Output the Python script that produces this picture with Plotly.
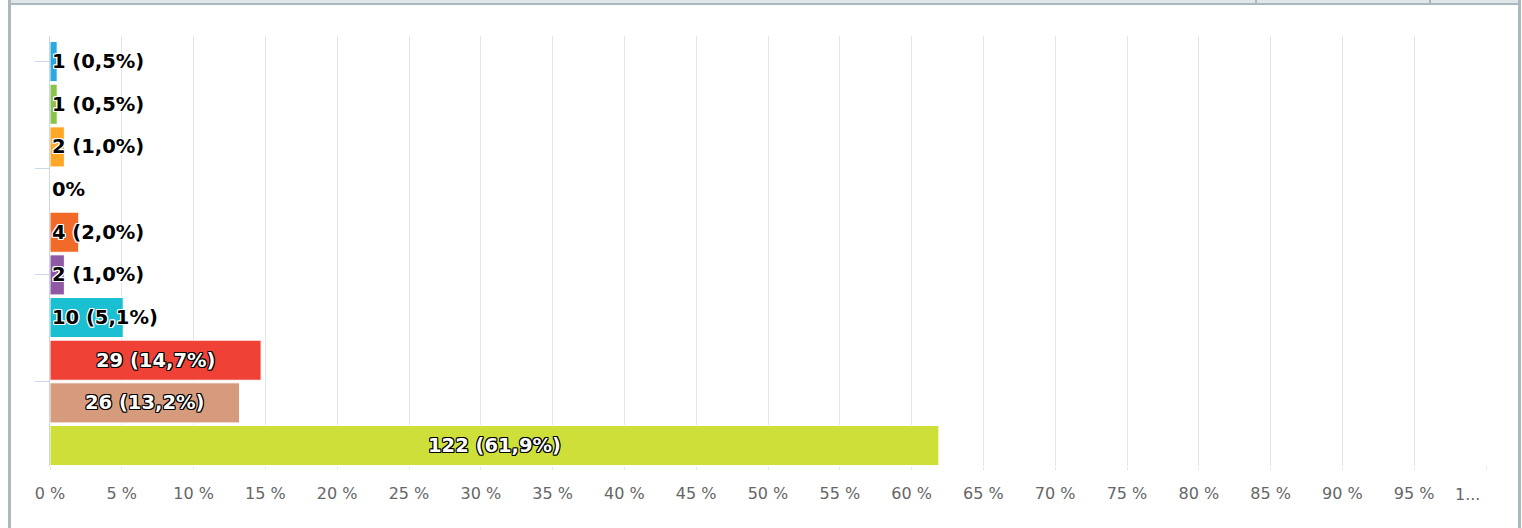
import plotly.graph_objects as go

# ---- data ----
counts = [1, 1, 2, 0, 4, 2, 10, 29, 26, 122]
percents = [0.5, 0.5, 1.0, 0.0, 2.0, 1.0, 5.1, 14.7, 13.2, 61.9]
colors = ["#2aa8e0", "#8bc34a", "#ffa726", "#cccccc", "#f26a27",
          "#8f59a5", "#1bbfd2", "#f04137", "#d69a7c", "#cfdf3a"]
tick_vals = list(range(0, 101, 5))
tick_text = [f"{v} %" for v in range(0, 100, 5)] + ["1..."]

W, H = 1522, 528
L, R, T, B = 50, 36, 36, 62
PW, PH = W - L - R, H - T - B


def px_x(px):
    return (px - L) / PW


def px_y(py):
    return (H - B - py) / PH


def label(c, p):
    if c == 0:
        return "0%"
    return f"{c} ({p:.1f}%)".replace(".", ",")


ypos = list(range(len(counts)))

fig = go.Figure()
fig.add_trace(go.Bar(
    x=percents, y=ypos, orientation="h",
    marker=dict(color=colors, line=dict(color="white", width=1)),
    hoverinfo="skip", showlegend=False,
))


def outline(col, w=1):
    parts = []
    for dx in (-w, 0, w):
        for dy in (-w, 0, w):
            if dx or dy:
                parts.append(f"{dx}px {dy}px 0 {col}")
    return ", ".join(parts)


dark_shadow = outline("#000")
light_shadow = outline("#fff")

for i, (c, p) in enumerate(zip(counts, percents)):
    big = p > 10
    fig.add_annotation(
        x=p / 2 if big else 0, y=i, xref="x", yref="y",
        text=label(c, p), showarrow=False,
        xanchor="center" if big else "left", yanchor="middle",
        font=dict(family="DejaVu Sans", size=19.5, weight="bold",
                  color="white" if big else "black",
                  shadow=dark_shadow if big else light_shadow),
    )

tick_font = dict(family="DejaVu Sans", size=16, color="#666666")

# last (truncated) tick label drawn as an annotation, left-shifted like the original
fig.add_annotation(
    x=tick_vals[-1], y=0, xref="x", yref="paper", text=tick_text[-1],
    showarrow=False, xanchor="center", yanchor="middle",
    xshift=-19, yshift=-28, font=tick_font,
)

fig.update_xaxes(
    range=[0, 100], tickmode="array", tickvals=tick_vals,
    ticktext=tick_text[:-1] + [""],
    showgrid=True, gridcolor="#e6e6e6", gridwidth=1, zeroline=False,
    showline=False, ticks="outside", ticklen=3, tickcolor="#e6e6e6",
    ticklabelstandoff=10, automargin=False,
    tickfont=tick_font,
    fixedrange=True,
)
fig.update_yaxes(
    range=[9.48, -0.6], tickmode="array", tickvals=[0, 2.5, 5, 7.5],
    showticklabels=False, showgrid=False, zeroline=False,
    showline=True, linecolor="#ccd6eb", linewidth=1,
    ticks="outside", ticklen=14, tickcolor="#ccd6eb", tickwidth=1,
    layer="below traces", fixedrange=True, automargin=False,
)

frame = "#aab8bf"
shapes = [
    # top strip
    dict(type="rect", x0=px_x(11), x1=px_x(1518), y0=px_y(0), y1=px_y(3),
         fillcolor="#e1e6e8", line_width=0),
    dict(type="rect", x0=px_x(11), x1=px_x(1518), y0=px_y(3), y1=px_y(5),
         fillcolor=frame, line_width=0),
    dict(type="rect", x0=px_x(1255), x1=px_x(1257), y0=px_y(0), y1=px_y(3),
         fillcolor=frame, line_width=0),
    dict(type="rect", x0=px_x(1429), x1=px_x(1431), y0=px_y(0), y1=px_y(3),
         fillcolor=frame, line_width=0),
    # left and right borders
    dict(type="rect", x0=px_x(8), x1=px_x(11), y0=px_y(0), y1=px_y(528),
         fillcolor=frame, line_width=0),
    dict(type="rect", x0=px_x(1518), x1=px_x(1521), y0=px_y(0), y1=px_y(528),
         fillcolor=frame, line_width=0),
]
for s in shapes:
    s.update(xref="paper", yref="paper", layer="above")

fig.update_layout(
    width=W, height=H,
    margin=dict(l=L, r=R, t=T, b=B, pad=0, autoexpand=False),
    plot_bgcolor="white", paper_bgcolor="white",
    bargap=0.06, shapes=shapes,
    font=dict(family="DejaVu Sans"),
)

fig.write_html(
    "out.html",
    config={"displayModeBar": False},
    post_script="document.body.style.margin='0';document.body.style.overflow='hidden';",
)
